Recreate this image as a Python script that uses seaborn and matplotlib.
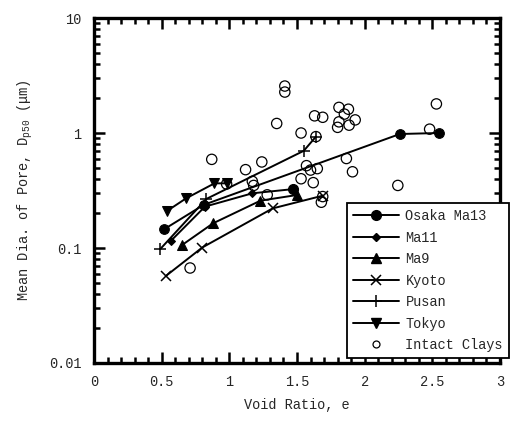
import numpy as np
import pandas as pd
import matplotlib
matplotlib.use("Agg")
import matplotlib.pyplot as plt
import seaborn as sns
from matplotlib.lines import Line2D
from matplotlib.ticker import FixedLocator, MultipleLocator, NullFormatter

# ---- data ----
osaka_e = [0.52, 0.81, 2.26, 2.55]
osaka_d = [0.146, 0.237, 0.98, 1.00]
osaka_extra_e = [1.47]
osaka_extra_d = [0.325]

ma11_e = [0.57, 0.82, 1.17, 1.47]
ma11_d = [0.116, 0.229, 0.299, 0.325]

ma9_e = [0.65, 0.88, 1.23, 1.50]
ma9_d = [0.106, 0.164, 0.258, 0.289]

kyoto_e = [0.53, 0.80, 1.32, 1.69]
kyoto_d = [0.057, 0.101, 0.221, 0.285]

pusan_e = [0.49, 0.83, 1.55, 1.64]
pusan_d = [0.098, 0.267, 0.70, 0.93]

tokyo_e = [0.54, 0.68, 0.89, 0.98]
tokyo_d = [0.21, 0.27, 0.365, 0.365]

intact_e = [1.41, 1.41, 1.35, 1.53, 1.63, 1.69, 1.81, 1.88, 1.85, 1.81, 1.80,
            1.885, 1.93, 2.53, 2.48, 1.865, 1.91, 2.245, 0.87, 1.24, 1.12,
            1.57, 1.60, 1.65, 1.53, 1.62, 1.17, 1.18, 1.28, 1.69, 1.68, 0.71,
            1.64, 0.98]
intact_d = [2.56, 2.27, 1.21, 1.00, 1.41, 1.37, 1.67, 1.61, 1.46, 1.25, 1.12,
            1.17, 1.30, 1.79, 1.08, 0.60, 0.46, 0.35, 0.59, 0.56, 0.48,
            0.52, 0.476, 0.49, 0.40, 0.37, 0.38, 0.35, 0.29, 0.28, 0.25, 0.067,
            0.93, 0.36]

x_ticks = [0, 0.5, 1, 1.5, 2, 2.5, 3]
x_labels = ["0", "0.5", "1", "1.5", "2", "2.5", "3"]
y_ticks = [0.01, 0.1, 1, 10]
y_labels = ["0.01", "0.1", "1", "10"]

# ---- style ----
sns.set_style("ticks")
plt.rcParams['font.family'] = ['Liberation Mono', 'DejaVu Sans']
plt.rcParams['mathtext.fontset'] = 'custom'
plt.rcParams['mathtext.rm'] = 'Liberation Mono'
plt.rcParams['mathtext.it'] = 'Liberation Mono'
FS = 9.8

fig = plt.figure(figsize=(5.17, 4.22), dpi=100)
ax = fig.add_axes([94 / 517, 59 / 422, 406 / 517, 345 / 422])

series = [
    ("Osaka Ma13", osaka_e, osaka_d, dict(marker="o", markersize=7)),
    ("Ma11", ma11_e, ma11_d, dict(marker="D", markersize=4.5)),
    ("Ma9", ma9_e, ma9_d, dict(marker="^", markersize=7)),
    ("Kyoto", kyoto_e, kyoto_d, dict(marker="x", markersize=7, markeredgewidth=1.1)),
    ("Pusan", pusan_e, pusan_d, dict(marker="+", markersize=8, markeredgewidth=1.1)),
    ("Tokyo", tokyo_e, tokyo_d, dict(marker="v", markersize=7)),
]

for name, e, d, mk in series:
    df = pd.DataFrame({"e": e, "d": d})
    sns.lineplot(data=df, x="e", y="d", sort=False, color="black",
                 linewidth=1.4, markeredgecolor="black",
                 markerfacecolor="black", ax=ax, zorder=3, **mk)

# extra Osaka marker without connecting line
ax.plot(osaka_extra_e, osaka_extra_d, linestyle="none", marker="o",
        markersize=7, color="black", zorder=3)

sns.scatterplot(x=intact_e, y=intact_d, marker="o", s=55,
                facecolor="none", edgecolor="black", linewidth=0.9,
                ax=ax, zorder=4)

ax.set_yscale("log")
ax.set_xlim(0, 3)
ax.set_ylim(0.01, 10)

ax.xaxis.set_major_locator(FixedLocator(x_ticks))
ax.set_xticklabels(x_labels, fontsize=FS)
ax.xaxis.set_minor_locator(MultipleLocator(0.1))
ax.yaxis.set_major_locator(FixedLocator(y_ticks))
ax.set_yticklabels(y_labels, fontsize=FS)
minor_y = [m * 10.0 ** p for p in range(-2, 1) for m in range(2, 10)]
ax.yaxis.set_minor_locator(FixedLocator(minor_y))
ax.yaxis.set_minor_formatter(NullFormatter())

ax.tick_params(which="both", direction="in", top=True, right=True,
               width=1.8, color="black")
ax.tick_params(which="major", length=8, pad=9)
ax.tick_params(which="minor", length=4.5)
for sp in ax.spines.values():
    sp.set_linewidth(2.4)
    sp.set_color("black")

ax.set_xlabel("Void Ratio, e", fontsize=FS, labelpad=6)
ax.set_ylabel("Mean Dia. of Pore, D$_{\\mathrm{p50}}$ (μm)", fontsize=FS,
              labelpad=10)

handles = []
for name, e, d, mk in series:
    handles.append(Line2D([], [], color="black", linewidth=1.4,
                          markeredgecolor="black", markerfacecolor="black",
                          label=name, **mk))
handles.append(Line2D([], [], linestyle="none", marker="o", markersize=5,
                      markerfacecolor="none", markeredgecolor="black",
                      markeredgewidth=0.9, label="Intact Clays"))

leg = ax.legend(handles=handles, loc="lower left",
                bbox_to_anchor=(0.623, 0.014), fontsize=FS,
                handlelength=3.4, handletextpad=0.45, labelspacing=0.55,
                borderpad=0.45, borderaxespad=0, fancybox=False,
                framealpha=1, edgecolor="black")
leg.get_frame().set_linewidth(1.3)
leg.set_zorder(10)

fig.savefig("out.png", dpi=100)
